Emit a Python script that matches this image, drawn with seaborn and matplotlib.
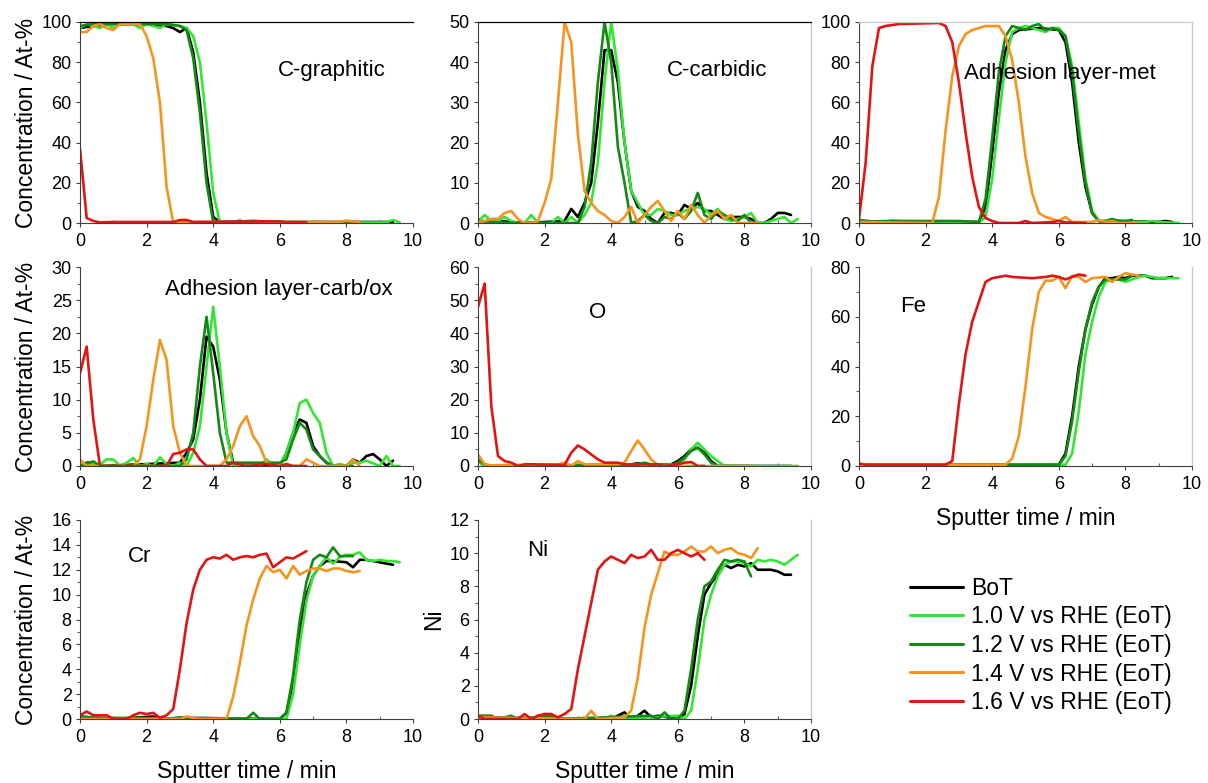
import numpy as np
import pandas as pd
import seaborn as sns
import matplotlib
matplotlib.use("Agg")
import matplotlib.pyplot as plt
from matplotlib.lines import Line2D

# ---------------- data (sputter time / min, concentration / At-%) ----------------
SERIES = ["BoT", "1.0 V vs RHE (EoT)", "1.2 V vs RHE (EoT)",
          "1.4 V vs RHE (EoT)", "1.6 V vs RHE (EoT)"]
COLORS = ["#000000", "#33e633", "#138a13", "#f7931e", "#e31414"]

# C-graphitic
graphitic_bot = [(0,97),(0.4,98),(1.0,99),(2.0,99),(2.6,98),(2.8,97),(3.0,95),(3.2,97),(3.4,85),(3.6,60),(3.8,25),(4.0,3),(4.2,0.5),(5.2,1),(6.0,0.5),(9.4,0.5)]
graphitic_10 = [(0,97),(0.2,99),(0.6,97),(0.8,99),(1.0,97),(1.2,99),(1.6,99),(1.8,97),(2.0,99),(2.4,97),(2.6,99),(3.0,98),(3.2,97),(3.4,93),(3.6,80),(3.8,50),(4.0,15),(4.2,0.5),(5.0,0.5),(7.0,0.2),(9.2,0.3),(9.4,1.5),(9.6,0.3)]
graphitic_12 = [(0,98),(0.4,99),(2.6,99),(3.0,98),(3.2,96),(3.4,82),(3.6,55),(3.8,20),(4.0,0.5),(4.6,0.5),(4.8,1.2),(5.0,0.3),(5.2,0.8),(5.4,0.3),(6.0,0.5),(8.2,0.3)]
graphitic_14 = [(0,95),(0.2,95),(0.4,98),(0.6,99),(0.8,97),(1.0,96),(1.2,99),(1.8,99),(2.0,93),(2.2,82),(2.4,60),(2.6,18),(2.8,0.3),(3.2,0.5),(6.8,0.5),(7.8,0.5),(8.0,1.2),(8.2,0.8),(8.4,0.5)]
graphitic_16 = [(0,37),(0.2,2.5),(0.4,1),(0.6,0.3),(1.0,0.5),(2.8,0.5),(3.0,1.5),(3.2,1.5),(3.4,0.5),(6.0,0.8),(6.2,0.3),(6.8,0.3)]

# C-carbidic
carbidic_bot = [(0,1),(0.2,0),(0.6,0.5),(1.4,0),(2.6,0.5),(2.8,3.5),(3.0,1.5),(3.2,5),(3.4,10),(3.6,25),(3.8,43),(4.0,43),(4.2,35),(4.4,20),(4.6,8),(4.8,4),(5.0,3),(5.2,1),(5.4,0),(5.6,2.5),(5.8,2.5),(6.0,2),(6.2,4.5),(6.4,3.5),(6.6,5),(6.8,3),(7.0,3),(7.2,2),(7.4,1),(7.6,1.5),(8.0,1.5),(8.2,1),(8.4,0),(8.6,0),(8.8,1),(9.0,2.5),(9.2,2.5),(9.4,2)]
carbidic_10 = [(0,0),(0.2,2),(0.4,0.5),(0.6,0.5),(0.8,1.5),(1.0,0.5),(1.2,0),(1.4,0),(1.6,2),(1.8,0),(2.2,0),(2.4,1.5),(2.6,0),(2.8,1.5),(3.0,0),(3.2,2),(3.4,5),(3.6,15),(3.8,35),(4.0,50),(4.2,38),(4.4,20),(4.6,8),(4.8,5),(5.0,2),(5.2,2),(5.4,3.5),(5.6,3),(5.8,2),(6.0,2),(6.2,3),(6.4,3.5),(6.6,4),(6.8,3.5),(7.0,2),(7.2,3.5),(7.4,1),(7.6,0.5),(7.8,1),(8.0,1.5),(8.2,2.5),(8.4,0),(8.6,0),(8.8,0.5),(9.0,1),(9.2,1.5),(9.4,0),(9.6,1)]
carbidic_12 = [(0,0),(0.4,0.3),(1.0,0),(3.0,0),(3.2,4),(3.4,15),(3.6,35),(3.8,50),(4.0,40),(4.2,19),(4.4,10),(4.6,0),(4.8,0.5),(5.0,2),(5.2,0.5),(5.4,0),(5.6,1.5),(5.8,1),(6.0,2.5),(6.2,1),(6.4,3),(6.6,7.5),(6.8,2),(7.0,1),(7.2,3),(7.4,2),(7.6,1),(7.8,0.5),(8.0,2),(8.2,0)]
carbidic_14 = [(0,0),(0.4,1),(0.6,1),(0.8,2.5),(1.0,3),(1.2,1),(1.4,0),(1.6,0),(1.8,0.5),(2.0,5),(2.2,11),(2.4,30),(2.6,50),(2.8,45),(3.0,22),(3.2,8),(3.4,5),(3.6,3),(3.8,2),(4.0,0.5),(4.2,0),(4.4,1.5),(4.6,4),(4.8,0),(5.0,2),(5.2,4),(5.4,5.5),(5.6,3),(5.8,0.5),(6.0,3),(6.2,1),(6.4,4.5),(6.6,2),(6.8,0),(7.0,2),(7.2,3),(7.4,1),(7.6,2),(7.8,0),(8.4,0)]

# Adhesion layer-met
met_bot = [(0,1),(0.6,0.5),(1.0,1),(2.0,0.5),(3.6,0.5),(3.8,8),(4.0,35),(4.2,65),(4.4,86),(4.6,94),(4.8,96),(5.4,97),(6.0,96),(6.2,90),(6.4,70),(6.6,40),(6.8,18),(7.0,5),(7.2,1),(7.4,0.5),(7.6,1.5),(7.8,1),(9.0,0.5),(9.2,1),(9.4,0.5)]
met_10 = [(0,0.5),(3.6,0),(3.8,3),(4.0,22),(4.2,52),(4.4,80),(4.6,95),(4.8,97),(5.0,98),(5.2,97),(5.4,96),(5.6,95),(5.8,97),(6.0,97),(6.2,93),(6.4,78),(6.6,50),(6.8,22),(7.0,6),(7.2,1),(8.6,0.5),(8.8,1),(9.0,0.5),(9.6,0)]
met_12 = [(0,1.5),(0.4,0.8),(1.0,1),(3.0,1),(3.6,0.5),(3.8,12),(4.0,42),(4.2,75),(4.4,93),(4.6,98),(4.8,97),(5.0,96),(5.2,98),(5.4,99),(5.6,96),(5.8,97),(6.0,96),(6.2,93),(6.4,75),(6.6,45),(6.8,20),(7.0,5),(7.2,1),(7.4,1),(7.6,2),(7.8,1),(8.0,1),(8.2,1.5)]
met_14 = [(0,0.5),(2.2,0),(2.4,13),(2.6,46),(2.8,73),(3.0,88),(3.2,94),(3.4,96),(3.6,97),(3.8,98),(4.2,98),(4.4,93),(4.6,81),(4.8,60),(5.0,33),(5.2,15),(5.4,5),(5.6,3),(5.8,2),(6.0,1),(6.2,3),(6.4,0.5),(7.0,0.5),(7.2,1.5),(7.4,0.5),(7.6,1),(7.8,0),(8.4,0)]
met_16 = [(0,2),(0.2,30),(0.4,78),(0.6,97),(0.8,98),(1.2,99),(2.4,99.5),(2.6,98),(2.8,90),(3.0,70),(3.2,45),(3.4,23),(3.6,8),(3.8,2.5),(4.0,1),(4.2,0),(4.8,0),(5.0,1),(5.2,0),(5.8,0.5),(6.0,1),(6.2,0.3),(6.8,0)]

# Adhesion layer-carb/ox
carbox_bot = [(0,0),(0.2,0.5),(0.4,0.5),(0.6,0),(3.0,0.5),(3.2,2),(3.4,4),(3.6,10),(3.8,19.5),(4.0,18),(4.2,13),(4.4,5),(4.6,0.5),(4.8,0),(6.0,0),(6.2,2),(6.4,5),(6.6,7),(6.8,6.5),(7.0,3),(7.2,1.5),(7.4,0.5),(7.6,0),(8.0,0),(8.2,1),(8.4,0.5),(8.6,1.5),(8.8,1.8),(9.0,1),(9.2,0),(9.4,0.8)]
carbox_10 = [(0,0),(0.2,0.3),(0.6,0.2),(0.8,1),(1.0,1),(1.2,0),(1.4,0.5),(1.6,1.2),(1.8,0),(2.0,0.3),(2.2,0),(2.4,1.3),(2.6,0.3),(2.8,0),(3.0,0.5),(3.2,0),(3.4,2),(3.6,6),(3.8,15),(4.0,24),(4.2,15),(4.4,5),(4.6,0),(5.4,0),(5.6,1),(5.8,0),(6.0,0),(6.2,2),(6.4,5),(6.6,9.5),(6.8,10),(7.0,8),(7.2,6.5),(7.4,2),(7.6,0),(7.8,0.3),(8.0,0),(8.2,0.5),(8.4,0.5),(8.6,0.8),(9.0,0),(9.2,1.5),(9.4,0),(9.6,0)]
carbox_12 = [(0,0),(0.4,0.7),(0.6,0),(3.0,0),(3.2,1),(3.4,5),(3.6,15),(3.8,22.5),(4.0,14),(4.2,5),(4.4,0.5),(6.0,0.5),(6.2,1),(6.4,4),(6.6,6.5),(6.8,5.5),(7.0,2.5),(7.2,1.5),(7.4,0.5),(7.6,0),(8.2,0)]
carbox_14 = [(0,1),(0.2,0),(1.6,0),(1.8,1),(2.0,6),(2.2,13),(2.4,19),(2.6,16),(2.8,6),(3.0,2),(3.2,0),(4.2,0),(4.4,1),(4.6,3),(4.8,6),(5.0,7.5),(5.2,4.5),(5.4,3),(5.6,0.5),(5.8,0),(6.6,0),(6.8,1),(7.0,0.5),(7.2,0),(8.0,0),(8.2,1),(8.4,0)]
carbox_16 = [(0,14),(0.2,18),(0.4,7),(0.6,0),(2.6,0),(2.8,1.8),(3.0,2),(3.2,2.5),(3.4,2.5),(3.6,1),(3.8,0),(4.4,0),(4.6,0.5),(5.0,0),(5.6,0.3),(6.0,0),(6.2,0.3),(6.4,0),(6.8,0)]

# O
o_bot = [(0,1.5),(0.2,0),(4.4,0.3),(4.6,0.5),(4.8,0.8),(5.0,0.5),(5.8,0.5),(6.0,1.5),(6.2,3),(6.4,5),(6.6,5.5),(6.8,4),(7.0,1.5),(7.2,0),(9.4,0)]
o_10 = [(0,1.5),(0.2,0),(6.0,0.5),(6.2,2),(6.4,5),(6.6,7),(6.8,5),(7.0,3),(7.2,1.5),(7.4,0),(9.6,0)]
o_12 = [(0,2),(0.2,0.5),(0.4,0),(4.8,0.5),(5.0,1),(5.2,0.5),(5.8,0.3),(6.0,1),(6.2,2.5),(6.4,4.5),(6.6,5.5),(6.8,3.5),(7.0,1),(7.2,0),(8.2,0)]
o_14 = [(0,3.5),(0.2,0.5),(0.4,0.2),(2.4,0.5),(2.6,1),(2.8,0),(3.0,1.5),(3.2,0.5),(4.0,0.5),(4.2,0.5),(4.4,1),(4.6,4.5),(4.8,7.7),(5.0,5),(5.2,2),(5.4,0.3),(5.6,0),(8.4,0)]
o_16 = [(0,48),(0.2,55),(0.4,18),(0.6,3),(0.8,1.5),(1.0,1),(1.2,0),(1.4,0.5),(1.6,0.5),(2.6,0.3),(2.8,4),(3.0,6.2),(3.2,5),(3.4,3.5),(3.6,2),(3.8,1),(4.2,1),(4.4,0.5),(5.4,0.5),(5.6,0),(5.8,0.2),(6.0,0.5),(6.2,1),(6.4,1.2),(6.6,0),(6.8,0)]

# Fe
fe_bot = [(0,0.5),(6.0,0.5),(6.2,5),(6.4,20),(6.6,40),(6.8,55),(7.0,65),(7.2,72),(7.4,75.5),(7.6,75.5),(7.8,76),(8.0,75.5),(8.2,76.5),(8.6,76.5),(8.8,75.5),(9.2,75.5),(9.4,76)]
fe_10 = [(0,0.3),(6.2,0.5),(6.4,5),(6.6,22),(6.8,45),(7.0,58),(7.2,68),(7.4,74),(7.6,75),(7.8,75),(8.0,74),(8.2,75),(8.4,76),(8.6,76.5),(8.8,76),(9.0,75.5),(9.6,75.5)]
fe_12 = [(0,0.3),(6.0,0.5),(6.2,4),(6.4,18),(6.6,38),(6.8,55),(7.0,66),(7.2,72),(7.4,75),(8.0,75),(8.2,76.5)]
fe_14 = [(0,0.5),(4.4,0.5),(4.6,3),(4.8,12),(5.0,32),(5.2,55),(5.4,70),(5.6,74.5),(5.8,74.5),(6.0,76),(6.2,71.5),(6.4,76.5),(6.6,76),(6.8,74),(7.0,75.5),(7.4,76),(7.6,74),(7.8,76),(8.0,77.5),(8.2,77),(8.4,76.5)]
fe_16 = [(0,1),(0.2,0.5),(2.6,0.5),(2.8,2),(3.0,25),(3.2,45),(3.4,58),(3.6,66),(3.8,74),(4.0,75.5),(4.4,76.5),(4.6,76),(5.2,75.5),(5.6,76),(5.8,76.5),(6.0,76),(6.2,75),(6.4,76),(6.6,77),(6.8,76.5)]

# Cr
cr_bot = [(0,0.2),(1.0,0),(2.2,0.2),(2.4,0),(3.0,0.1),(6.0,0),(6.2,0.5),(6.4,3),(6.6,7),(6.8,10),(7.0,11.5),(7.2,12.3),(7.4,12.7),(7.6,12.7),(8.0,12.6),(8.2,12.2),(8.4,12.8),(8.6,12.8),(8.8,12.7),(9.0,12.6),(9.2,12.5),(9.4,12.4)]
cr_10 = [(0,0.1),(5.8,0),(6.0,0.1),(6.2,0),(6.4,2),(6.6,6),(6.8,9.5),(7.0,11.5),(7.2,12.3),(7.4,13),(7.6,12.5),(7.8,13),(8.0,13.2),(8.2,13.2),(8.4,13.4),(8.6,12.8),(8.8,12.7),(9.0,12.8),(9.2,12.7),(9.4,12.7),(9.6,12.6)]
cr_12 = [(0,0.1),(5.0,0),(5.2,0.5),(5.4,0),(6.0,0),(6.2,0.5),(6.4,3.5),(6.6,8),(6.8,11),(7.0,12.8),(7.2,13.2),(7.4,13),(7.6,13.8),(7.8,13.1),(8.0,13.1),(8.2,13.1)]
cr_14 = [(0,0),(3.0,0),(3.2,0.2),(3.4,0.1),(3.6,0),(4.4,0),(4.6,1.8),(4.8,4.5),(5.0,7.5),(5.2,9.6),(5.4,11.3),(5.6,12.3),(5.8,11.8),(6.0,12),(6.2,11.3),(6.4,12.3),(6.6,11.6),(6.8,11.9),(7.0,12.1),(7.2,12.1),(7.4,11.9),(7.6,12.1),(7.8,12.1),(8.0,11.9),(8.2,11.8),(8.4,11.9)]
cr_16 = [(0,0.3),(0.2,0.6),(0.4,0.3),(0.8,0.3),(1.0,0),(1.4,0),(1.6,0.3),(1.8,0.5),(2.0,0.4),(2.2,0.5),(2.4,0.1),(2.6,0.3),(2.8,0.8),(3.0,4),(3.2,7.7),(3.4,10.4),(3.6,12),(3.8,12.8),(4.0,13),(4.2,12.9),(4.4,13.2),(4.6,12.8),(4.8,13),(5.0,13.1),(5.2,13),(5.4,13.2),(5.6,13.3),(5.8,12.2),(6.0,12.6),(6.2,13),(6.4,12.9),(6.6,13.2),(6.8,13.5)]

# Ni
ni_bot = [(0,0.1),(4.0,0),(4.2,0.2),(4.4,0.4),(4.6,0),(4.8,0.2),(5.0,0.5),(5.2,0.1),(5.4,0.2),(6.0,0),(6.2,0.3),(6.4,2),(6.6,5),(6.8,7.5),(7.0,8.2),(7.2,8.7),(7.4,9.3),(7.6,9.1),(7.8,9.3),(8.0,9.2),(8.2,9.4),(8.4,9.0),(8.8,9.0),(9.0,8.9),(9.2,8.7),(9.4,8.7)]
ni_10 = [(0,0),(3.8,0),(4.0,0.2),(4.2,0),(6.0,0.2),(6.2,0),(6.4,0.5),(6.6,3),(6.8,6),(7.0,7.5),(7.2,8.6),(7.4,9.3),(7.6,9.5),(7.8,9.5),(8.0,9.4),(8.2,9.2),(8.4,9.6),(8.6,9.5),(8.8,9.6),(9.0,9.5),(9.2,9.3),(9.4,9.6),(9.6,9.9)]
ni_12 = [(0,0.2),(0.4,0.2),(0.6,0),(1.0,0.2),(1.2,0),(2.2,0.2),(2.4,0),(5.2,0.2),(5.4,0),(5.6,0.4),(5.8,0),(6.0,0),(6.2,0.5),(6.4,3),(6.6,6),(6.8,8),(7.0,8.3),(7.2,9),(7.4,9.6),(7.6,9.5),(7.8,9.6),(8.0,9.5),(8.2,8.6)]
ni_14 = [(0,0.1),(3.2,0),(3.4,0.5),(3.6,0),(4.4,0.1),(4.6,0.5),(4.8,2.5),(5.0,5.5),(5.2,7.5),(5.4,8.8),(5.6,10.1),(5.8,9.9),(6.0,9.9),(6.2,10.1),(6.4,10.4),(6.6,10.1),(6.8,10.1),(7.0,10.4),(7.2,10),(7.4,10.2),(7.6,10.3),(7.8,10),(8.0,9.9),(8.2,9.7),(8.4,10.3)]
ni_16 = [(0,0.2),(0.2,0),(1.2,0),(1.4,0.3),(1.6,0),(1.8,0.2),(2.0,0.3),(2.2,0.3),(2.4,0.1),(2.6,0.3),(2.8,0.6),(3.0,3),(3.2,5),(3.4,7),(3.6,9),(3.8,9.5),(4.0,9.8),(4.2,9.6),(4.4,9.4),(4.6,9.9),(4.8,9.7),(5.0,9.8),(5.2,10.2),(5.4,9.6),(5.6,9.6),(5.8,10),(6.0,10.2),(6.2,10),(6.4,9.8),(6.6,10),(6.8,9.6)]

PANEL_NAMES = ["C-graphitic", "C-carbidic", "Adhesion layer-met",
               "Adhesion layer-carb/ox", "O", "Fe", "Cr", "Ni"]
PANEL_DATA = [
    [graphitic_bot, graphitic_10, graphitic_12, graphitic_14, graphitic_16],
    [carbidic_bot, carbidic_10, carbidic_12, carbidic_14, None],
    [met_bot, met_10, met_12, met_14, met_16],
    [carbox_bot, carbox_10, carbox_12, carbox_14, carbox_16],
    [o_bot, o_10, o_12, o_14, o_16],
    [fe_bot, fe_10, fe_12, fe_14, fe_16],
    [cr_bot, cr_10, cr_12, cr_14, cr_16],
    [ni_bot, ni_10, ni_12, ni_14, ni_16],
]
Y_MAX = [100, 50, 100, 30, 60, 80, 16, 12]
Y_STEP = [20, 10, 20, 5, 10, 20, 2, 2]
Y_LABELS = ["Concentration / At-%", "", "", "Concentration / At-%", "", "",
            "Concentration / At-%", "Ni"]
X_LABEL = "Sputter time / min"
X_TICKS = [0, 2, 4, 6, 8, 10]

rows = []
for p, plist in enumerate(PANEL_DATA):
    for s, pts in enumerate(plist):
        if pts is None:
            continue
        for i, (t, v) in enumerate(pts):
            rows.append((PANEL_NAMES[p], SERIES[s], i, t, v))
df = pd.DataFrame(rows, columns=["panel", "series", "idx", "t", "c"])

# ---------------- styling ----------------
sns.set_theme(style="ticks")
plt.rcParams["font.family"] = ["Liberation Sans", "DejaVu Sans"]
plt.rcParams["text.color"] = "black"
plt.rcParams["axes.labelcolor"] = "black"

W, H = 1208, 783
fig = plt.figure(figsize=(W / 100, H / 100), dpi=100)

col_left = [80, 478, 859]
col_w = 333
row_tb = [(22, 223), (267, 466), (520, 719)]
ann_pos = [(0.595, 0.761), (0.567, 0.761), (0.314, 0.746), (0.255, 0.889),
           (0.334, 0.769), (0.124, 0.80), (0.144, 0.819), (0.149, 0.849)]
top_spine = {0: "#000000", 1: "#000000", 2: "#c8c8c8"}
right_spine = {1: "#c8c8c8", 2: "#c8c8c8", 4: "#c8c8c8", 5: "#c8c8c8", 7: "#c8c8c8"}
xlabel_panels = {5, 6, 7}
palette = dict(zip(SERIES, COLORS))

for p in range(8):
    r, c = divmod(p, 3)
    top, bot = row_tb[r]
    ax = fig.add_axes([col_left[c] / W, 1 - bot / H, col_w / W, (bot - top) / H])
    sub = df[df.panel == PANEL_NAMES[p]]
    present = [s for s in SERIES if s in set(sub.series)]
    sns.lineplot(data=sub, x="t", y="c", hue="series", hue_order=present,
                 palette=palette, estimator=None, sort=False, legend=False,
                 linewidth=1.9, ax=ax)
    ax.set_xlim(0, 10)
    ax.set_ylim(0, Y_MAX[p])
    ax.set_xticks(X_TICKS)
    ax.set_yticks(np.arange(0, Y_MAX[p] + 0.001, Y_STEP[p]))
    ax.set_xticks(np.arange(1, 10, 2), minor=True)
    ax.set_yticks(np.arange(Y_STEP[p] / 2, Y_MAX[p], Y_STEP[p]), minor=True)
    ax.tick_params(axis="both", which="major", labelsize=13, length=3,
                   width=0.8, color="#444444", labelcolor="black")
    ax.tick_params(axis="y", which="major", pad=3)
    ax.tick_params(axis="x", which="major", pad=4)
    ax.tick_params(axis="y", which="minor", length=2.5, width=0.8, color="#666666")
    ax.tick_params(axis="x", which="minor", direction="in", length=2.5,
                   width=0.8, color="#666666")
    for side in ["left", "bottom"]:
        ax.spines[side].set_color("#404040")
        ax.spines[side].set_linewidth(0.8)
    if p in top_spine:
        ax.spines["top"].set_visible(True)
        ax.spines["top"].set_color(top_spine[p])
        ax.spines["top"].set_linewidth(0.9)
    else:
        ax.spines["top"].set_visible(False)
    if p in right_spine:
        ax.spines["right"].set_visible(True)
        ax.spines["right"].set_color(right_spine[p])
        ax.spines["right"].set_linewidth(1.0)
    else:
        ax.spines["right"].set_visible(False)

    ax.text(ann_pos[p][0], ann_pos[p][1], PANEL_NAMES[p], transform=ax.transAxes,
            fontsize=16, ha="left", va="center", color="black")

    if Y_LABELS[p]:
        ax.set_ylabel(Y_LABELS[p], fontsize=16.5, color="black")
        if p == 7:
            ax.yaxis.set_label_coords(-0.10, 0.5)
        else:
            ax.yaxis.set_label_coords(-0.127, 0.5)
    else:
        ax.set_ylabel("")
    if p in xlabel_panels:
        ax.set_xlabel(X_LABEL, fontsize=16.5, color="black")
        ax.xaxis.set_label_coords(0.5, -0.205)
    else:
        ax.set_xlabel("")

handles = [Line2D([0], [0], color=col, lw=2.2) for col in COLORS]
fig.legend(handles, SERIES, loc="upper left", bbox_to_anchor=(910 / W, 1 - 577 / H),
           frameon=False, fontsize=16.5, handlelength=2.3, handletextpad=0.35,
           labelspacing=0.24, borderpad=0, borderaxespad=0, labelcolor="black")

fig.savefig("out.png", dpi=100)
